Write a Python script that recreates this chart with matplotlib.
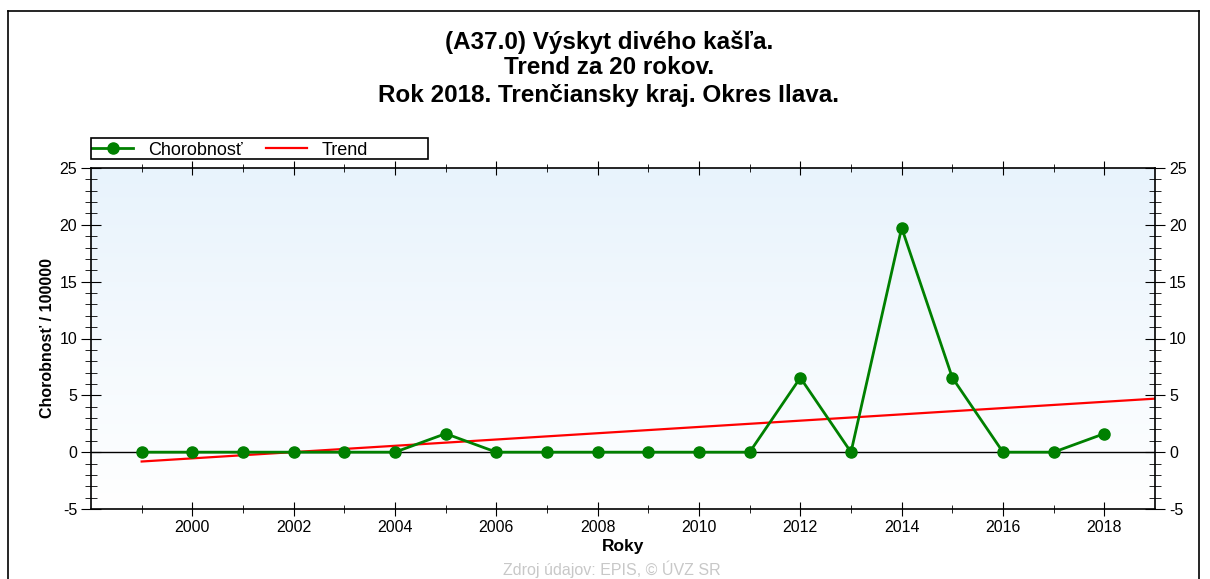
import matplotlib
matplotlib.use('Agg')
import matplotlib.pyplot as plt
import numpy as np
from matplotlib.colors import LinearSegmentedColormap

plt.rcParams['font.family'] = ['Liberation Sans', 'DejaVu Sans']
plt.rcParams['axes.unicode_minus'] = False

years = np.arange(1999, 2019)
values = [0, 0, 0, 0, 0, 0, 1.63, 0, 0, 0, 0, 0, 0, 6.55, 0, 19.74, 6.55, 0, 0, 1.63]
xticks = [2000, 2002, 2004, 2006, 2008, 2010, 2012, 2014, 2016, 2018]
yticks = [-5, 0, 5, 10, 15, 20, 25]

W, H = 1210, 579
fig = plt.figure(figsize=(W/100, H/100), dpi=100)
ax = fig.add_axes([91/W, 1-509/H, (1155-91)/W, (509-168)/H])

# background gradient
grad = np.linspace(0, 1, 256).reshape(-1, 1)
cm = LinearSegmentedColormap.from_list('bg', ['#ffffff', '#e8f3fc'])
ax.imshow(grad, extent=[1998, 2019, -5, 25], origin='lower', aspect='auto', cmap=cm, zorder=0)

ax.axhline(0, color='black', lw=1, zorder=1)

# trend line (least squares on the series)
k, q = np.polyfit(years, values, 1)
tx = np.array([1999, 2019])
ax.plot(tx, k*tx+q, color='red', lw=1.6, label='Trend', zorder=2)
ax.plot(years, values, color='green', lw=2, marker='o', ms=8, label='Chorobnosť', zorder=3)

ax.set_xlim(1998, 2019)
ax.set_ylim(-5, 25)
ax.set_xticks(xticks)
ax.set_xticks(np.arange(1999, 2019), minor=True)
ax.set_yticks(yticks)
ax.set_yticks(np.arange(-5, 26), minor=True)
ax.tick_params(axis='both', labelsize=11.5, colors='black', pad=3)
ax.tick_params(axis='x', which='major', direction='inout', length=10, top=True)
ax.tick_params(axis='x', which='minor', direction='inout', length=6, top=True)
ax.tick_params(axis='y', which='major', direction='inout', length=14, right=True, labelright=True)
ax.tick_params(axis='y', which='minor', direction='inout', length=8, right=True)
for s in ax.spines.values():
    s.set_linewidth(1.2)

ax.set_xlabel('Roky', fontsize=12.5, fontweight='bold', labelpad=3)
ax.set_ylabel('Chorobnosť / 100000', fontsize=11.5, fontweight='bold', labelpad=3)

h, l = ax.get_legend_handles_labels()
leg = ax.legend(h[::-1], l[::-1], ncol=2, loc='lower left', bbox_to_anchor=(0, 1.025),
                fontsize=13, frameon=False,
                handlelength=2.3, handletextpad=0.8, columnspacing=1.3,
                borderpad=0.05, borderaxespad=0)
# legend box (wider than its content, as in the reference)
fig.add_artist(plt.Rectangle((91/W, 1-159/H), 337/W, 21/H, fill=False,
                             edgecolor='black', lw=1.2))

fig.text(0.503, 1-42/H, '(A37.0) Výskyt divého kašľa.', ha='center', va='center', fontsize=17.5, fontweight='bold')
fig.text(0.503, 1-67/H, 'Trend za 20 rokov.', ha='center', va='center', fontsize=17.5, fontweight='bold')
fig.text(0.503, 1-95/H, 'Rok 2018. Trenčiansky kraj. Okres Ilava.', ha='center', va='center', fontsize=17.5, fontweight='bold')
fig.text(0.506, 1/H, 'Zdroj údajov: EPIS, © ÚVZ SR', ha='center', va='bottom', fontsize=11.5, color='#c8c8c8')

# outer frame
fig.add_artist(plt.Line2D([8/W, 8/W], [0, 1-11/H], color='black', lw=1.2))
fig.add_artist(plt.Line2D([8/W, 1199/W], [1-11/H, 1-11/H], color='black', lw=1.2))
fig.add_artist(plt.Line2D([1199/W, 1199/W], [0, 1-11/H], color='black', lw=1.2))

fig.savefig('out.png', dpi=100)
